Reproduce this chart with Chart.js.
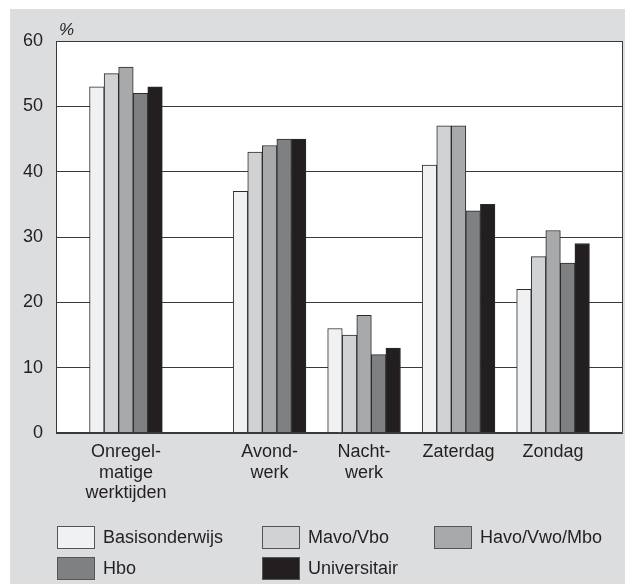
<!DOCTYPE html>
<html><head><meta charset="utf-8">
<script src="https://cdn.jsdelivr.net/npm/chart.js@4.4.0/dist/chart.umd.min.js"></script>
<style>
html,body{margin:0;padding:0;background:#fff;}
canvas{display:block;}
</style></head><body>
<canvas id="c" width="628" height="584"></canvas>
<script>
// ---- data ----
const categories = [['Onregel-','matige','werktijden'], ['Avond-','werk'], ['Nacht-','werk'], ['Zaterdag'], ['Zondag']];
const seriesNames = ['Basisonderwijs', 'Mavo/Vbo', 'Havo/Vwo/Mbo', 'Hbo', 'Universitair'];
const basisonderwijs = [53, 37, 16, 41, 22];
const mavoVbo        = [55, 43, 15, 47, 27];
const havoVwoMbo     = [56, 44, 18, 47, 31];
const hbo            = [52, 45, 12, 34, 26];
const universitair   = [53, 45, 13, 35, 29];
const yTickValues = [0, 10, 20, 30, 40, 50, 60];
const yUnit = '%';

// ---- layout / style (not data) ----
const groupSlots = [0.74, 2.26, 3.26, 4.26, 5.26];
const colors = ['#f0f1f3', '#d1d2d4', '#a8a9ab', '#7f8082', '#231f20'];
const ink = '#231f20';
const FONT = '"Liberation Sans", Arial, Helvetica, sans-serif';
const seriesValues = [basisonderwijs, mavoVbo, havoVwoMbo, hbo, universitair];

const bgPlugin = {
  id: 'bg',
  beforeDraw(chart) {
    const ctx = chart.ctx, a = chart.chartArea;
    ctx.save();
    ctx.fillStyle = '#dcdddf';
    ctx.fillRect(10, 9, 615, 575);
    ctx.fillStyle = '#ffffff';
    ctx.fillRect(a.left, a.top, a.right - a.left, a.bottom - a.top);
    ctx.restore();
  },
  afterDraw(chart) {
    const ctx = chart.ctx, a = chart.chartArea;
    ctx.save();
    ctx.strokeStyle = '#3a3a3a';
    ctx.lineWidth = 1;
    const L = Math.round(a.left) + 0.5, R = Math.round(a.right) - 0.5;
    const T = Math.round(a.top) + 0.5, B = Math.round(a.bottom) - 0.5;
    ctx.beginPath();
    ctx.moveTo(L, T); ctx.lineTo(R, T); ctx.lineTo(R, B); ctx.lineTo(L, B); ctx.closePath();
    ctx.stroke();
    // unit label
    ctx.fillStyle = ink;
    ctx.font = 'italic 17px ' + FONT;
    ctx.textBaseline = 'alphabetic';
    ctx.textAlign = 'left';
    ctx.fillText(yUnit, 59, 35);
    // legend
    const cols = [57, 262, 434], rows = [526, 557];
    ctx.font = '18px ' + FONT;
    ctx.textBaseline = 'middle';
    seriesNames.forEach((name, k) => {
      const x = cols[k % 3], y = rows[Math.floor(k / 3)];
      ctx.fillStyle = colors[k];
      ctx.fillRect(x, y, 38, 23);
      ctx.strokeStyle = '#555';
      ctx.strokeRect(x + 0.5, y + 0.5, 37, 22);
      ctx.fillStyle = ink;
      ctx.fillText(name, x + 46, y + 12.5);
    });
    ctx.restore();
  }
};

new Chart(document.getElementById('c'), {
  type: 'bar',
  data: {
    datasets: seriesNames.map((name, k) => ({
      label: name,
      data: seriesValues[k].map((v, i) => ({ x: groupSlots[i], y: v })),
      backgroundColor: colors[k],
      borderColor: '#2b2b2b',
      borderWidth: 1,
      borderSkipped: 'start',
      barThickness: 14.55
    }))
  },
  options: {
    responsive: false,
    animation: false,
    devicePixelRatio: 1,
    layout: { padding: { top: 41, right: 5, left: 0, bottom: 0 } },
    plugins: { legend: { display: false }, tooltip: { enabled: false } },
    scales: {
      x: {
        type: 'linear', min: 0, max: 6, offset: false,
        grid: { display: false, offset: false },
        border: { display: false },
        afterBuildTicks: s => { s.ticks = groupSlots.map(v => ({ value: v })); },
        ticks: {
          autoSkip: false, maxRotation: 0, padding: 1, color: ink,
          font: { family: FONT, size: 18, lineHeight: 1.14 },
          callback: (v, i) => categories[i]
        },
        afterFit: s => { s.height = 151; }
      },
      y: {
        min: 0, max: 60,
        afterBuildTicks: s => { s.ticks = yTickValues.map(v => ({ value: v })); },
        grid: { color: '#3a3a3a', lineWidth: 1, drawTicks: false },
        border: { color: '#3a3a3a', width: 1 },
        ticks: { padding: 13, color: ink, font: { family: FONT, size: 18 } },
        afterFit: s => { s.width = 56; }
      }
    }
  },
  plugins: [bgPlugin]
});
</script>
</body></html>
